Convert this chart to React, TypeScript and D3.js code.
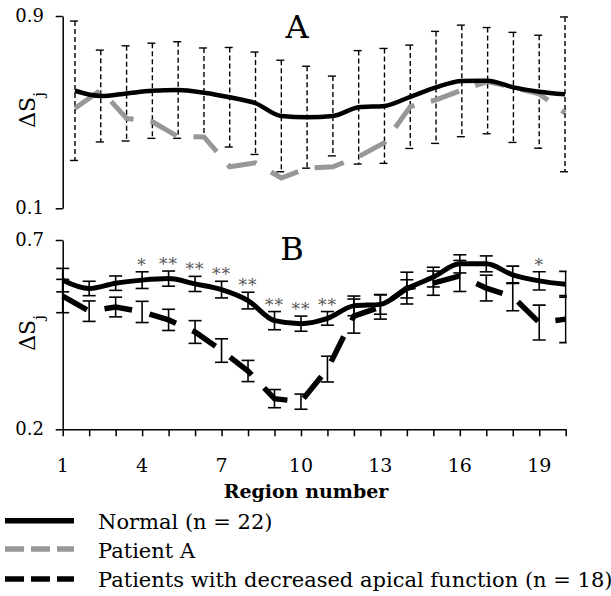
import React, { useEffect, useRef } from 'react';
import * as d3 from 'd3';

// region numbers on the x axis
const regions = [1, 2, 3, 4, 5, 6, 7, 8, 9, 10, 11, 12, 13, 14, 15, 16, 17, 18, 19, 20];
const xTickLabels = [1, 4, 7, 10, 13, 16, 19];

// panel A: normal mean +/- sd and patient A
const normalA = [0.589, 0.567, 0.578, 0.589, 0.592, 0.581, 0.562, 0.537, 0.484, 0.479, 0.484, 0.520, 0.526, 0.564, 0.603, 0.630, 0.631, 0.603, 0.585, 0.574];
const normalASd = [0.290, 0.191, 0.198, 0.198, 0.201, 0.186, 0.207, 0.213, 0.232, 0.212, 0.166, 0.236, 0.239, 0.215, 0.233, 0.232, 0.221, 0.229, 0.235, 0.322];
const patientA = [0.516, 0.592, 0.474, 0.460, 0.398, 0.397, 0.273, 0.289, 0.226, 0.267, 0.273, 0.315, 0.373, 0.523, 0.551, 0.592, 0.627, 0.603, 0.576, 0.497];

// panel B: normal and patients with decreased apical function, mean +/- se
const normalB = [0.594, 0.572, 0.586, 0.594, 0.598, 0.584, 0.569, 0.540, 0.487, 0.479, 0.493, 0.526, 0.530, 0.571, 0.602, 0.637, 0.637, 0.608, 0.592, 0.583];
const normalBErr = [0.031, 0.019, 0.019, 0.022, 0.020, 0.020, 0.022, 0.022, 0.024, 0.020, 0.018, 0.026, 0.026, 0.024, 0.026, 0.024, 0.021, 0.023, 0.024, 0.034];
const patientsB = [0.552, 0.512, 0.523, 0.510, 0.489, 0.457, 0.408, 0.354, 0.281, 0.273, 0.359, 0.499, 0.523, 0.573, 0.586, 0.605, 0.573, 0.550, 0.482, 0.491];
const patientsBErr = [0.044, 0.027, 0.026, 0.028, 0.028, 0.030, 0.031, 0.028, 0.024, 0.020, 0.034, 0.045, 0.032, 0.042, 0.032, 0.041, 0.034, 0.037, 0.046, 0.062];
const significance = ['', '', '', '*', '**', '**', '**', '**', '**', '**', '**', '', '', '', '', '', '', '', '*', ''];

const legendItems = ['Normal (n = 22)', 'Patient A', 'Patients with decreased apical function (n = 18)'];

const FONT = 'DejaVu Serif';
const GREY = '#979797';

const App = () => {
  const svgRef = useRef<SVGSVGElement>(null);

  useEffect(() => {
    const width = 611;
    const height = 596;
    const svg = d3.select(svgRef.current).attr('width', width).attr('height', height);
    svg.selectAll('*').remove();

    const xA = d3.scaleLinear().domain([1, 20]).range([75, 565]);
    const yA = d3.scaleLinear().domain([0.1, 0.9]).range([208.3, 16]);
    const xB = d3.scaleLinear().domain([1, 20]).range([62.7, 565.7]);
    const yB = d3.scaleLinear().domain([0.2, 0.7]).range([429.3, 240]);

    const label = (x, y, txt, size, opts: any = {}) =>
      svg.append('text')
        .attr('x', x)
        .attr('y', y)
        .attr('text-anchor', opts.anchor || 'middle')
        .attr('fill', opts.fill || '#000')
        .attr('font-family', FONT)
        .attr('font-size', size)
        .attr('font-weight', opts.bold ? 'bold' : 'normal')
        .text(txt);

    // ---------- panel A ----------
    const axA = svg.append('g')
      .attr('transform', `translate(62.7,0)`)
      .call(d3.axisLeft(yA).tickValues([0.1, 0.9]).tickSize(7).tickSizeOuter(0).tickFormat(() => ''));
    axA.selectAll('path, line').attr('stroke', '#000').attr('stroke-width', 1.5);

    [0.9, 0.1].forEach(v => label(44, yA(v) + 6, d3.format('.1f')(v), 18, { anchor: 'end' }));

    const gA = svg.append('g');
    regions.forEach((r, i) => {
      const x = xA(r);
      const top = yA(normalA[i] + normalASd[i]);
      const bot = yA(normalA[i] - normalASd[i]);
      gA.append('line').attr('x1', x).attr('x2', x).attr('y1', top).attr('y2', bot)
        .attr('stroke', '#000').attr('stroke-width', 1.4).attr('stroke-dasharray', '5,3');
      [top, bot].forEach(y => gA.append('line').attr('x1', x - 5).attr('x2', x + 3).attr('y1', y).attr('y2', y)
        .attr('stroke', '#000').attr('stroke-width', 1.4));
    });

    gA.append('path').datum(patientA)
      .attr('d', d3.line<number>().x((d, i) => xA(regions[i])).y(d => yA(d)))
      .attr('fill', 'none').attr('stroke', GREY).attr('stroke-width', 5).attr('stroke-dasharray', '30,17');
    gA.append('path').datum(normalA)
      .attr('d', d3.line<number>().x((d, i) => xA(regions[i])).y(d => yA(d)).curve(d3.curveMonotoneX))
      .attr('fill', 'none').attr('stroke', '#000').attr('stroke-width', 4.5);

    label(297, 38, 'A', 32);

    // ---------- panel B ----------
    const axB = svg.append('g')
      .attr('transform', `translate(62.7,0)`)
      .call(d3.axisLeft(yB).tickValues([0.2, 0.7]).tickSize(7).tickSizeOuter(0).tickFormat(() => ''));
    axB.selectAll('path, line').attr('stroke', '#000').attr('stroke-width', 1.5);
    [0.7, 0.2].forEach(v => label(44, yB(v) + 6, d3.format('.1f')(v), 18, { anchor: 'end' }));

    const axX = svg.append('g')
      .attr('transform', `translate(0,${yB(0.2)})`)
      .call(d3.axisBottom(xB).tickValues(regions).tickSize(7).tickSizeOuter(0).tickFormat(() => ''));
    axX.selectAll('path, line').attr('stroke', '#000').attr('stroke-width', 1.5);
    xTickLabels.forEach(r => label(xB(r), 472, String(r), 19));

    svg.append('defs').append('clipPath').attr('id', 'clipB')
      .append('rect').attr('x', 0).attr('y', 200).attr('width', xB(20) + 1).attr('height', 240);

    const gB = svg.append('g').attr('clip-path', 'url(#clipB)');
    const errBars = (vals, errs) => {
      regions.forEach((r, i) => {
        const x = xB(r);
        const top = yB(vals[i] + errs[i]);
        const bot = yB(vals[i] - errs[i]);
        gB.append('line').attr('x1', x).attr('x2', x).attr('y1', top).attr('y2', bot)
          .attr('stroke', '#000').attr('stroke-width', 1.6);
        [top, bot].forEach(y => gB.append('line').attr('x1', x - 6.5).attr('x2', x + 6.5).attr('y1', y).attr('y2', y)
          .attr('stroke', '#000').attr('stroke-width', 1.6));
      });
    };
    errBars(normalB, normalBErr);
    errBars(patientsB, patientsBErr);

    gB.append('path').datum(patientsB)
      .attr('d', d3.line<number>().x((d, i) => xB(regions[i])).y(d => yB(d)))
      .attr('fill', 'none').attr('stroke', '#000').attr('stroke-width', 5.5).attr('stroke-dasharray', '28,18');
    gB.append('path').datum(normalB)
      .attr('d', d3.line<number>().x((d, i) => xB(regions[i])).y(d => yB(d)).curve(d3.curveMonotoneX))
      .attr('fill', 'none').attr('stroke', '#000').attr('stroke-width', 5);

    // significance markers above the normal error bars
    regions.forEach((r, i) => {
      if (!significance[i]) return;
      const y = yB(normalB[i] + normalBErr[i]) - 10;
      label(xB(r), y + 9, significance[i], 17, { fill: '#555' }).attr('letter-spacing', 1);
    });

    label(292, 260, 'B', 32);

    // y axis titles
    [110, 333].forEach(cy => {
      const t = svg.append('text')
        .attr('transform', `translate(35,${cy}) rotate(-90)`)
        .attr('text-anchor', 'middle')
        .attr('font-family', FONT)
        .attr('font-size', 22);
      t.append('tspan').text('ΔS');
      t.append('tspan').attr('baseline-shift', 'sub').attr('font-size', 15).text('j');
    });

    label(306, 498, 'Region number', 19, { bold: true });

    // ---------- legend ----------
    const legendY = [520.7, 549, 579];
    const legendStroke = ['#000', GREY, '#000'];
    const legendDash = [null, '19,7', '19,7'];
    const legendBase = [529, 558, 587];
    legendItems.forEach((item, i) => {
      svg.append('line').attr('x1', 5).attr('x2', 74).attr('y1', legendY[i]).attr('y2', legendY[i])
        .attr('stroke', legendStroke[i]).attr('stroke-width', 5.5)
        .attr('stroke-dasharray', legendDash[i]);
      label(98, legendBase[i], item, 21, { anchor: 'start' });
    });
  }, []);

  return (
    <div style={{ position: 'absolute', left: 0, top: 0 }}>
      <svg ref={svgRef} style={{ display: 'block' }}></svg>
    </div>
  );
};

export default App;
